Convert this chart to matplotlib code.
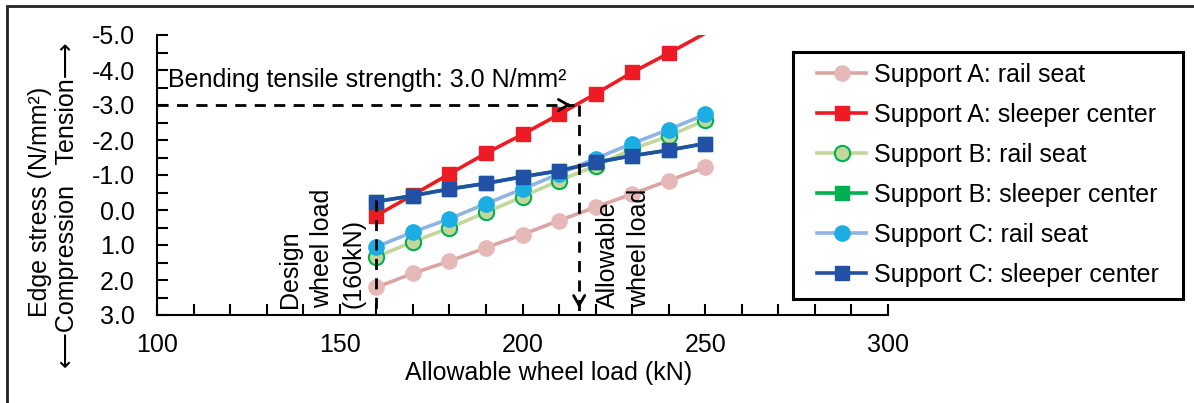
import numpy as np
import matplotlib
matplotlib.use("Agg")
import matplotlib.pyplot as plt
from matplotlib.patches import Rectangle

plt.rcParams['font.family'] = ['Liberation Sans', 'DejaVu Sans']
plt.rcParams['axes.unicode_minus'] = False

# wheel load (kN)
loads = [160, 170, 180, 190, 200, 210, 220, 230, 240, 250]

# edge stress (N/mm2), negative = tension
a_rail = [2.21, 1.81, 1.46, 1.08, 0.70, 0.30, -0.08, -0.46, -0.84, -1.22]
a_center = [0.16, -0.43, -1.03, -1.62, -2.16, -2.73, -3.32, -3.93, -4.48, -5.05]
b_rail = [1.34, 0.91, 0.51, 0.07, -0.38, -0.84, -1.26, -1.74, -2.11, -2.57]
b_center = [-0.24, -0.41, -0.60, -0.76, -0.95, -1.12, -1.36, -1.55, -1.71, -1.90]
c_rail = [1.05, 0.63, 0.25, -0.18, -0.60, -1.03, -1.47, -1.90, -2.30, -2.73]
c_center = [-0.24, -0.41, -0.60, -0.76, -0.95, -1.12, -1.36, -1.55, -1.71, -1.90]

labels = ["Support A: rail seat", "Support A: sleeper center",
          "Support B: rail seat", "Support B: sleeper center",
          "Support C: rail seat", "Support C: sleeper center"]

strength = -3.0
design_load = 160
allow_load = 215.5

fig = plt.figure(figsize=(11.94, 4.03), dpi=100)
ax = fig.add_axes([157/1194, 1-315/403, (888-157)/1194, (315-35)/403])

fs = 18
lw = 2.6
ms = 11

ax.plot(loads, a_rail, color='#DCA3A3', lw=lw, marker='o', ms=ms,
        mfc='#E6B9B8', mec='#E6B9B8', label=labels[0])
ax.plot(loads, a_center, color='#ED1C24', lw=lw, marker='s', ms=ms - 0.5,
        mfc='#ED1C24', mec='#ED1C24', markevery=list(range(9)), label=labels[1])
ax.plot(loads, b_rail, color='#C3D69B', lw=lw, marker='o', ms=ms,
        mfc='#C3D69B', mec='#00B050', mew=1.5, label=labels[2])
ax.plot(loads, b_center, color='#00B050', lw=lw, marker='s', ms=ms - 0.5,
        mfc='#00B050', mec='#00B050', label=labels[3])
ax.plot(loads, c_rail, color='#8DB4E2', lw=lw, marker='o', ms=ms,
        mfc='#1CADE4', mec='#1CADE4', label=labels[4])
ax.plot(loads, c_center, color='#2150A6', lw=lw, marker='s', ms=ms - 0.5,
        mfc='#2150A6', mec='#2150A6', label=labels[5])

# dashed guide lines with open arrow heads
dash = dict(color='black', lw=2, ls=(0, (4, 3)), zorder=5)
ax.plot([100, allow_load - 1.5], [strength, strength], **dash)
ax.annotate('', xy=(allow_load - 1.5, strength), xytext=(allow_load - 4, strength),
            arrowprops=dict(arrowstyle='->,head_length=0.7,head_width=0.4', color='black', lw=2),
            zorder=6)
ax.plot([allow_load, allow_load], [strength, 2.88], **dash)
ax.annotate('', xy=(allow_load, 2.88), xytext=(allow_load, 2.6),
            arrowprops=dict(arrowstyle='->,head_length=0.7,head_width=0.4', color='black', lw=2),
            zorder=6)
ax.plot([design_load, design_load], [-0.3, 3.0], **dash)

ax.text(103, -3.72, "Bending tensile strength: 3.0 N/mm²", fontsize=fs, va='center', ha='left')
ax.text(157.0, 2.8, "Design\nwheel load\n(160kN)", fontsize=fs, rotation=90,
        ha='right', va='bottom', multialignment='left', linespacing=1.4)
ax.text(220.0, 2.8, "Allowable\nwheel load", fontsize=fs, rotation=90,
        ha='left', va='bottom', multialignment='left', linespacing=1.4)

ax.set_xlim(100, 300)
ax.set_ylim(3, -5)
ax.set_xticks([100, 150, 200, 250, 300])
ax.set_xticks(np.arange(100, 301, 10), minor=True)
ax.set_yticks(np.arange(-5, 3.1, 1))
ax.set_yticks(np.arange(-5, 3.1, 0.5), minor=True)
ax.yaxis.set_major_formatter(matplotlib.ticker.FormatStrFormatter('%.1f'))
ax.tick_params(which='both', direction='in', width=1.5, labelsize=fs, color='black')
ax.tick_params(which='major', length=8)
ax.tick_params(which='minor', length=8)
ax.tick_params(axis='x', pad=13)
ax.tick_params(axis='y', pad=16)
for s in ['top', 'right']:
    ax.spines[s].set_visible(False)
for s in ['left', 'bottom']:
    ax.spines[s].set_linewidth(1.5)

fig.text(549/1194, 1-373/403, "Allowable wheel load (kN)", fontsize=fs, ha='center', va='center')
fig.text(40/1194, 1-202/403, "Edge stress (N/mm²)", fontsize=fs, rotation=90, ha='center', va='center')
fig.text(67/1194, 1-205/403, "⟵Compression   Tension⟶", fontsize=fs, rotation=90,
         ha='center', va='center')

leg = fig.legend(loc='center', bbox_to_anchor=(988/1194, 1-175/403),
                 fontsize=fs, frameon=False,
                 handlelength=1.95, handletextpad=0.3, labelspacing=0.64, borderpad=0.3)
fig.add_artist(Rectangle((793/1194, 1-299/403), 390/1194, 247/403, transform=fig.transFigure,
                         fill=False, edgecolor='black', lw=2.2))

fig.add_artist(Rectangle((7/1194, -0.2), 1.2, 1.2 - 6/403, transform=fig.transFigure,
                         fill=False, edgecolor='#222222', lw=2, clip_on=False))

fig.savefig('out.png', dpi=100)
